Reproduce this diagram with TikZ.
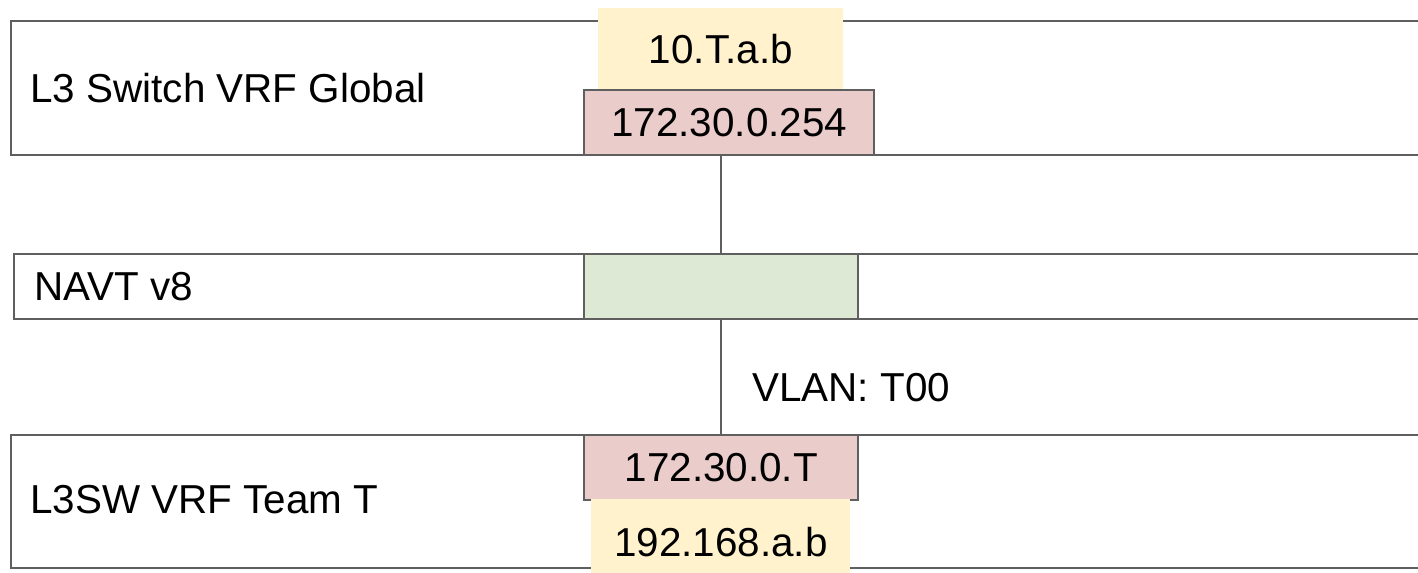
\documentclass[tikz,border=0pt]{standalone}
\usepackage{fontspec}
\setmainfont{Liberation Sans}
\usetikzlibrary{positioning}

\definecolor{ipyellow}{HTML}{FFF2CC}
\definecolor{ifpink}{HTML}{EACCCB}
\definecolor{natgreen}{HTML}{DDE8D5}
\definecolor{edgegray}{HTML}{5F5F5F}

\tikzset{
  layerbox/.style={draw=edgegray,line width=1.4pt,anchor=north west,inner sep=0pt},
  ifbox/.style={draw=edgegray,line width=1.4pt,fill=ifpink,anchor=north west,inner sep=0pt},
  ipbox/.style={fill=ipyellow,anchor=north west,inner sep=0pt},
  natbox/.style={draw=edgegray,line width=1.4pt,fill=natgreen,anchor=north west,inner sep=0pt},
  layertxt/.style={anchor=west,inner sep=0pt},
  wire/.style={draw=edgegray,line width=1.4pt}
}

\begin{document}
\begin{tikzpicture}[x=0.02cm,y=-0.02cm,font=\fontsize{23}{27}\selectfont]
    \useasboundingbox (0,0) rectangle (1418,573);
    \clip (0,0) rectangle (1418,573);
    % layers
    \node[layerbox,minimum width=28.4cm,minimum height=2.68cm] (global) at (10,20) {};
    \node[layerbox,minimum width=28.4cm,minimum height=1.3cm] (navt) at (13,253) {};
    \node[layerbox,minimum width=28.4cm,minimum height=2.66cm] (team) at (10,434) {};
    \node[layertxt] (globaltxt) at (30,88) {L3 Switch VRF Global};
    \node[layertxt] (navttxt) at (34,287) {NAVT v8};
    \node[layertxt] (teamtxt) at (30,500) {L3SW VRF Team T};
    % addresses
    \node[ipbox,minimum width=4.9cm,minimum height=1.62cm] (globalip) at (598,8) {10.T.a.b};
    \node[ifbox,minimum width=5.8cm,minimum height=1.3cm] (globalif) at (583,89) {172.30.0.254};
    \node[natbox,minimum width=5.48cm,minimum height=1.3cm] (nat) at (583,253) {};
    \node[ifbox,minimum width=5.48cm,minimum height=1.3cm] (teamif) at (583,434) {172.30.0.T};
    \node[ipbox,minimum width=5.18cm,minimum height=1.7cm] (teamip) at (591,499) {192.168.a.b};
    % links
    \draw[wire] (nat.north) -- (nat.north |- globalif.south);
    \draw[wire] (nat.south) -- (nat.south |- teamif.north);
    \node[layertxt] (vlan) at (752,388) {VLAN: T00};
\end{tikzpicture}
\end{document}
